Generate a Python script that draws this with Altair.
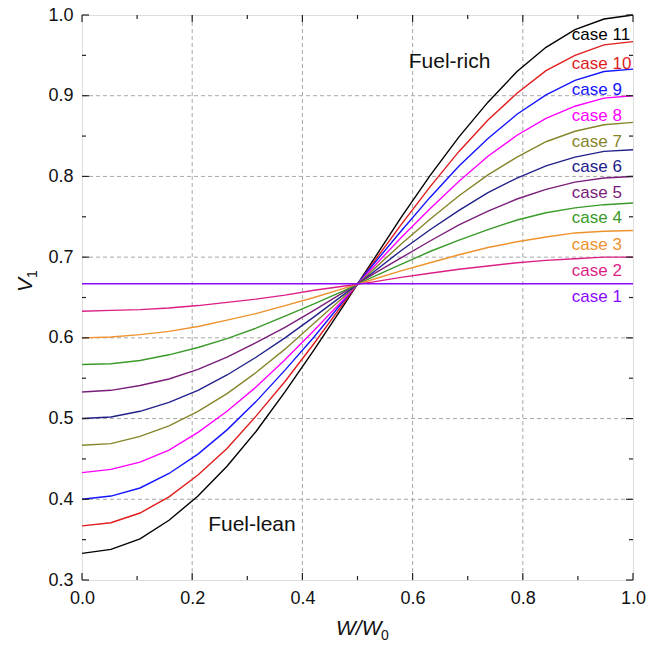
import altair as alt
import pandas as pd

# ---------------- data ----------------
W = [0.0, 0.0526, 0.1053, 0.1579, 0.2105, 0.2632, 0.3158, 0.3684, 0.4211, 0.4737,
     0.5263, 0.5789, 0.6316, 0.6842, 0.7368, 0.7895, 0.8421, 0.8947, 0.9474, 1.0]

case1 = [0.667] * 20
case2 = [0.633, 0.634, 0.635, 0.637, 0.640, 0.644, 0.648, 0.653, 0.659, 0.664,
         0.669, 0.675, 0.680, 0.685, 0.689, 0.693, 0.696, 0.698, 0.700, 0.700]
case3 = [0.600, 0.601, 0.604, 0.608, 0.614, 0.622, 0.630, 0.640, 0.650, 0.661,
         0.672, 0.683, 0.693, 0.703, 0.712, 0.719, 0.725, 0.730, 0.732, 0.733]
case4 = [0.567, 0.568, 0.572, 0.579, 0.588, 0.599, 0.612, 0.627, 0.642, 0.658,
         0.675, 0.691, 0.707, 0.721, 0.734, 0.746, 0.755, 0.761, 0.765, 0.767]
case5 = [0.533, 0.535, 0.541, 0.549, 0.561, 0.576, 0.594, 0.613, 0.634, 0.656,
         0.678, 0.699, 0.720, 0.740, 0.757, 0.772, 0.784, 0.793, 0.798, 0.800]
case6 = [0.500, 0.502, 0.509, 0.520, 0.535, 0.554, 0.576, 0.600, 0.626, 0.653,
         0.680, 0.708, 0.734, 0.758, 0.780, 0.798, 0.813, 0.824, 0.831, 0.833]
case7 = [0.467, 0.469, 0.478, 0.491, 0.509, 0.531, 0.557, 0.586, 0.618, 0.650,
         0.683, 0.716, 0.747, 0.776, 0.802, 0.824, 0.843, 0.856, 0.864, 0.867]
case8 = [0.433, 0.437, 0.446, 0.461, 0.483, 0.509, 0.539, 0.573, 0.609, 0.647,
         0.686, 0.724, 0.760, 0.794, 0.825, 0.851, 0.872, 0.887, 0.897, 0.900]
case9 = [0.400, 0.404, 0.414, 0.432, 0.456, 0.486, 0.521, 0.560, 0.601, 0.645,
         0.689, 0.732, 0.774, 0.813, 0.847, 0.877, 0.901, 0.919, 0.930, 0.933]
case10 = [0.367, 0.371, 0.383, 0.403, 0.430, 0.463, 0.503, 0.546, 0.593, 0.642,
          0.691, 0.740, 0.787, 0.831, 0.870, 0.903, 0.931, 0.950, 0.963, 0.967]
case11 = [0.333, 0.338, 0.351, 0.374, 0.404, 0.441, 0.484, 0.533, 0.585, 0.639,
          0.694, 0.749, 0.801, 0.849, 0.892, 0.930, 0.960, 0.982, 0.995, 1.000]

series = [case1, case2, case3, case4, case5, case6, case7, case8, case9, case10, case11]
case_names = ["case %d" % (k + 1) for k in range(11)]
colors = ["#8A0AFF", "#DC1F86", "#EE922E", "#3A9A2A", "#7A1E7A", "#20208A",
          "#85852A", "#FF00FF", "#1414FF", "#E01C1C", "#000000"]

# label anchor (annotation) positions in data units
label_x = 0.889
label_y = [0.651, 0.683, 0.715, 0.748, 0.779, 0.812, 0.843, 0.875, 0.907, 0.939, 0.975]

x_ticks_major = [0.0, 0.2, 0.4, 0.6, 0.8, 1.0]
x_ticks_minor = [0.1, 0.3, 0.5, 0.7, 0.9]
y_ticks_major = [0.3, 0.4, 0.5, 0.6, 0.7, 0.8, 0.9, 1.0]
y_ticks_minor = [0.35, 0.45, 0.55, 0.65, 0.75, 0.85, 0.95]
x_grid = [0.2, 0.4, 0.6, 0.8]
y_grid = [0.4, 0.5, 0.6, 0.7, 0.8, 0.9]

# ---------------- build ----------------
PW, PH = 551, 565
FONT = "Liberation Sans"

rows = []
for name, vals in reversed(list(zip(case_names, series))):
    for w, v in zip(W, vals):
        rows.append({"W": w, "V": v, "case": name})
df = pd.DataFrame(rows)

xscale = alt.Scale(domain=[0, 1], nice=False, zero=False)
yscale = alt.Scale(domain=[0.3, 1.0], nice=False, zero=False)
cscale = alt.Scale(domain=case_names, range=colors)

xaxis = alt.Axis(values=x_ticks_major, format=".1f", title=None, grid=False, ticks=False,
                 domain=False, labelFontSize=18, labelFont=FONT, labelColor="#111",
                 labelPadding=9, labelFlush=False, labelOverlap=False)
yaxis = alt.Axis(values=y_ticks_major, format=".1f", title=None, grid=False, ticks=False,
                 domain=False, labelFontSize=18, labelFont=FONT, labelColor="#111",
                 labelPadding=9, labelOverlap=False)

grid_x = alt.Chart(pd.DataFrame({"v": x_grid})).mark_rule(
    color="#a8a8a8", strokeDash=[4, 3], strokeWidth=1).encode(
    x=alt.X("v:Q", scale=xscale, axis=xaxis), y=alt.value(0), y2=alt.value(PH))
grid_y = alt.Chart(pd.DataFrame({"v": y_grid})).mark_rule(
    color="#a8a8a8", strokeDash=[4, 3], strokeWidth=1).encode(
    y=alt.Y("v:Q", scale=yscale, axis=yaxis), x=alt.value(0), x2=alt.value(PW))

lines = alt.Chart(df).mark_line(strokeWidth=1.4).encode(
    x=alt.X("W:Q", scale=xscale, axis=xaxis),
    y=alt.Y("V:Q", scale=yscale, axis=yaxis),
    color=alt.Color("case:N", scale=cscale, legend=None),
)


def tick_layers(vals, orient, length):
    d = pd.DataFrame({"v": vals})
    out = []
    if orient == "x":
        for y0, y1 in [(PH, PH - length), (0, length)]:
            out.append(alt.Chart(d).mark_rule(color="#222", strokeWidth=1.2).encode(
                x=alt.X("v:Q", scale=xscale, axis=xaxis), y=alt.value(y0), y2=alt.value(y1)))
    else:
        for x0, x1 in [(0, length), (PW, PW - length)]:
            out.append(alt.Chart(d).mark_rule(color="#222", strokeWidth=1.2).encode(
                y=alt.Y("v:Q", scale=yscale, axis=yaxis), x=alt.value(x0), x2=alt.value(x1)))
    return out


ticks = (tick_layers(x_ticks_major, "x", 7) + tick_layers(x_ticks_minor, "x", 4)
         + tick_layers(y_ticks_major, "y", 7) + tick_layers(y_ticks_minor, "y", 4))

lab_df = pd.DataFrame({"case": case_names, "lx": [label_x] * 11, "ly": label_y})
labels = alt.Chart(lab_df).mark_text(align="left", baseline="middle", fontSize=17, font=FONT).encode(
    x=alt.X("lx:Q", scale=xscale, axis=xaxis),
    y=alt.Y("ly:Q", scale=yscale, axis=yaxis),
    color=alt.Color("case:N", scale=cscale, legend=None),
    text="case:N",
)

ann_df = pd.DataFrame({"t": ["Fuel-rich", "Fuel-lean"], "ax": [0.593, 0.229], "ay": [0.942, 0.368]})
ann = alt.Chart(ann_df).mark_text(align="left", baseline="middle", fontSize=21, font=FONT,
                                  color="#111").encode(
    x=alt.X("ax:Q", scale=xscale, axis=xaxis),
    y=alt.Y("ay:Q", scale=yscale, axis=yaxis),
    text="t:N",
)

# axis titles with subscripts
xt1 = alt.Chart(pd.DataFrame({"t": ["W/W"]})).mark_text(
    align="left", baseline="alphabetic", fontSize=21, font=FONT, fontStyle="italic", color="#111").encode(
    text="t:N", x=alt.value(254), y=alt.value(620))
xt2 = alt.Chart(pd.DataFrame({"t": ["0"]})).mark_text(
    align="left", baseline="alphabetic", fontSize=14, font=FONT, color="#111").encode(
    text="t:N", x=alt.value(299), y=alt.value(625))
yt1 = alt.Chart(pd.DataFrame({"t": ["V"]})).mark_text(
    align="left", baseline="alphabetic", fontSize=21, font=FONT, fontStyle="italic", angle=270,
    color="#111").encode(text="t:N", x=alt.value(-50), y=alt.value(277))
yt2 = alt.Chart(pd.DataFrame({"t": ["1"]})).mark_text(
    align="left", baseline="alphabetic", fontSize=14, font=FONT, angle=270, color="#111").encode(
    text="t:N", x=alt.value(-45), y=alt.value(263))

chart = alt.layer(grid_x, grid_y, lines, *ticks, labels, ann, xt1, xt2, yt1, yt2).properties(
    width=PW, height=PH,
    autosize=alt.AutoSizeParams(type="none"),
    padding={"left": 82, "top": 15, "right": 29, "bottom": 65},
).configure_view(stroke="#222", strokeWidth=1.5).configure(background="white")

chart.save("out.html", embed_options={"renderer": "svg", "actions": False})
